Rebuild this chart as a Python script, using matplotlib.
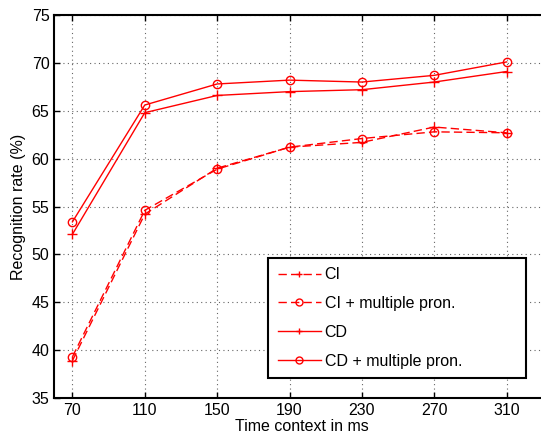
import numpy as np
import matplotlib
matplotlib.use('Agg')
import matplotlib.pyplot as plt

plt.rcParams['font.family'] = ['Liberation Sans', 'DejaVu Sans']

# time context (ms)
x = [70, 110, 150, 190, 230, 270, 310]
ci = [38.9, 54.2, 59.0, 61.2, 61.7, 63.3, 62.7]
ci_mp = [39.3, 54.6, 58.9, 61.2, 62.1, 62.8, 62.7]
cd = [52.1, 64.8, 66.6, 67.0, 67.2, 68.0, 69.1]
cd_mp = [53.4, 65.6, 67.8, 68.2, 68.0, 68.7, 70.1]
labels = ['CI', 'CI + multiple pron.', 'CD', 'CD + multiple pron.']
yticks = [35, 40, 45, 50, 55, 60, 65, 70, 75]

fig = plt.figure(figsize=(5.41, 4.38), dpi=100)
ax = fig.add_axes([0.1004, 0.0913, 0.9163, 0.8744])

red = '#ff0000'
dash = (6, 3)
ax.plot(x, ci, c=red, ls='--', dashes=dash, marker='+', ms=7, mew=1, lw=1, label=labels[0])
ax.plot(x, ci_mp, c=red, ls='--', dashes=dash, marker='o', ms=6, mfc='none', mew=1, lw=1, label=labels[1])
ax.plot(x, cd, c=red, ls='-', marker='+', ms=7, mew=1, lw=1, label=labels[2])
ax.plot(x, cd_mp, c=red, ls='-', marker='o', ms=6, mfc='none', mew=1, lw=1, label=labels[3])

ax.set_xlim(60, 334)
ax.set_ylim(35, 75)
ax.set_xticks(x)
ax.set_yticks(yticks)
ax.grid(True, ls=(0, (1, 3)), color='0.4', lw=0.8)
ax.tick_params(direction='in', top=True, right=True, labelsize=11.5, length=4, width=1)
for s in ax.spines.values():
    s.set_linewidth(1.5)

ax.set_xlabel('Time context in ms', fontsize=11.5, labelpad=1)
ax.set_ylabel('Recognition rate (%)', fontsize=11.5, labelpad=4)

leg = ax.legend(loc='lower left', bbox_to_anchor=(0.431, 0.052, 0.52, 0.3135), mode='expand',
                fontsize=11.5, fancybox=False, framealpha=1, edgecolor='black',
                handlelength=2.7, labelspacing=0.86, borderpad=0.6, handletextpad=0.25,
                borderaxespad=0)
leg.get_frame().set_linewidth(1.5)
for h in leg.legend_handles:
    h.set_markersize(5)

fig.savefig('out.png', dpi=100)
